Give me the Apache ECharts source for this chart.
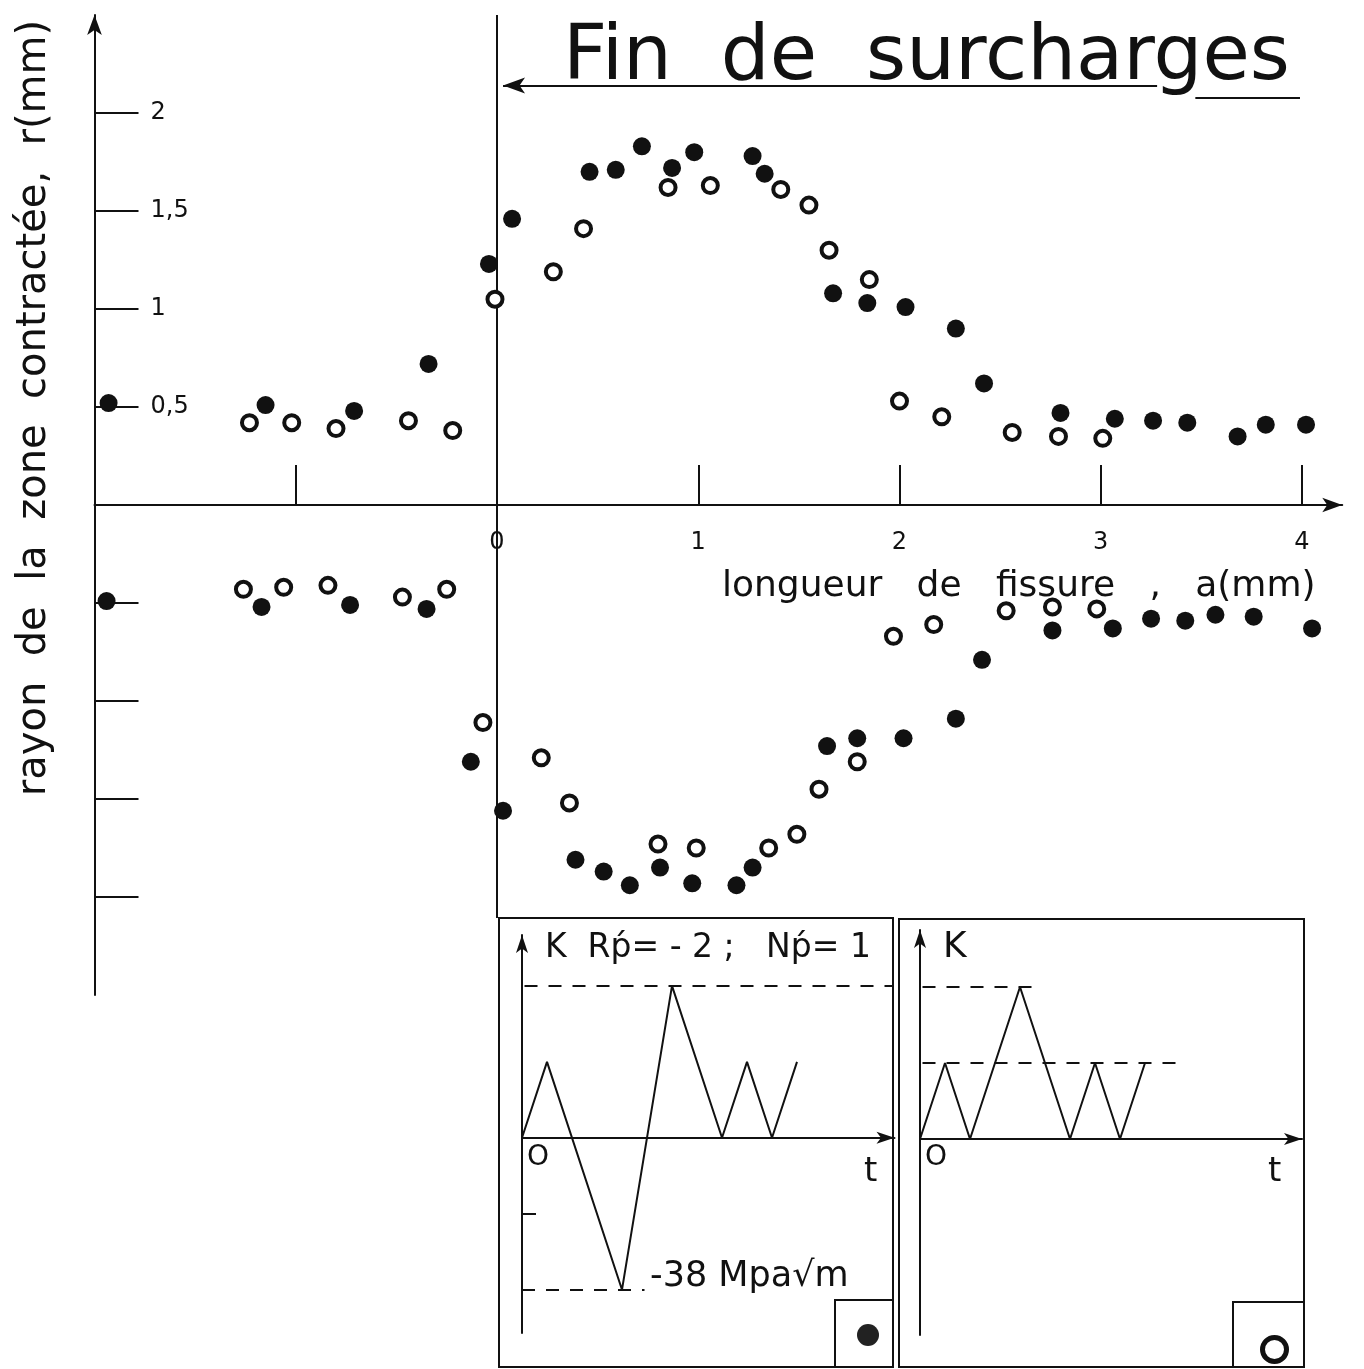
<!DOCTYPE html>
<html>
<head>
<meta charset="utf-8">
<script src="https://cdn.jsdelivr.net/npm/echarts@6/dist/echarts.min.js"></script>
<style>
html,body{margin:0;padding:0;background:#fff;}
#c{width:1364px;height:1369px;}
</style>
</head>
<body>
<div id="c"></div>
<script>
// ---- Data: crack length a (mm), radius of contracted zone r (mm) ----
// Filled symbols: overload followed by underload (R'p = -2, N'p = 1)
const filledUpper = [
  [-1.93,0.52],[-1.15,0.51],[-0.71,0.48],[-0.34,0.72],[-0.04,1.23],[0.075,1.46],
  [0.46,1.70],[0.59,1.71],[0.72,1.83],[0.87,1.72],[0.98,1.80],[1.27,1.78],[1.33,1.69],
  [1.67,1.08],[1.84,1.03],[2.03,1.01],[2.28,0.90],[2.42,0.62],[2.80,0.47],[3.07,0.44],
  [3.26,0.43],[3.43,0.42],[3.68,0.35],[3.82,0.41],[4.02,0.41]
];
const filledLower = [
  [-1.94,-0.49],[-1.17,-0.52],[-0.73,-0.51],[-0.35,-0.53],[-0.13,-1.31],[0.03,-1.56],
  [0.39,-1.81],[0.53,-1.87],[0.66,-1.94],[0.81,-1.85],[0.97,-1.93],[1.19,-1.94],[1.27,-1.85],
  [1.64,-1.23],[1.79,-1.19],[2.02,-1.19],[2.28,-1.09],[2.41,-0.79],[2.76,-0.64],[3.06,-0.63],
  [3.25,-0.58],[3.42,-0.59],[3.57,-0.56],[3.76,-0.57],[4.05,-0.63]
];
// Open symbols: overload only
const openUpper = [
  [-1.23,0.42],[-1.02,0.42],[-0.80,0.39],[-0.44,0.43],[-0.22,0.38],[-0.01,1.05],
  [0.28,1.19],[0.43,1.41],[0.85,1.62],[1.06,1.63],[1.41,1.61],[1.55,1.53],[1.65,1.30],
  [1.85,1.15],[2.00,0.53],[2.21,0.45],[2.56,0.37],[2.79,0.35],[3.01,0.34]
];
const openLower = [
  [-1.26,-0.43],[-1.06,-0.42],[-0.84,-0.41],[-0.47,-0.47],[-0.25,-0.43],[-0.07,-1.11],
  [0.22,-1.29],[0.36,-1.52],[0.80,-1.73],[0.99,-1.75],[1.35,-1.75],[1.49,-1.68],[1.60,-1.45],
  [1.79,-1.31],[1.97,-0.67],[2.17,-0.61],[2.53,-0.54],[2.76,-0.52],[2.98,-0.53]
];
// Axis ticks / labels
const xTickValues = [-1,1,2,3,4];
const xLabelValues = [0,1,2,3,4];
const yTickValues = [-2,-1.5,-1,-0.5,0.5,1,1.5,2];
const yLabelValues = [0.5,1,1.5,2];
// End of overloads marker (a = 0)
const overloadEndA = 0;
// ---- Inset load sequences K(t) (normalised: nominal Kmax = 1) ----
const tUnderload = [0,1,4,6,8,9,10,11];
const kUnderload = [0,1,-2,2,0,1,0,1];
const tOverload = [0,1,2,4,6,7,8,9];
const kOverload = [0,1,0,2,0,1,0,1];
const kNominal = 1, kPeak = 2, kMin = -2;

const INK = '#111';
const FONT = 'DejaVu Sans';
const pairs = (xs, ys) => xs.map((x, i) => [x, ys[i]]);

const chart = echarts.init(document.getElementById('c'), null, {renderer: 'canvas'});

const dashStyle = {color: INK, width: 2, type: [13, 11], opacity: 1};
const hiddenAxisBits = {axisLabel: {show: false}, splitLine: {show: false}};

const option = {
  backgroundColor: '#fff',
  animation: false,
  grid: [
    {left: 94.5, top: 15, width: 1247.75, height: 980},
    {left: 522, top: 935, width: 372.5, height: 398},
    {left: 920, top: 930, width: 382, height: 405}
  ],
  legend: [
    {data: ["R'p = -2 ; N'p = 1"], left: 857, top: 1324, padding: 0, itemWidth: 22, itemHeight: 22,
     formatter: () => '', selectedMode: false, icon: 'circle',
     itemStyle: {color: '#222', borderWidth: 0, opacity: 1}},
    {data: ["surcharge seule"], left: 1260, top: 1335, padding: 0, itemWidth: 24, itemHeight: 24,
     formatter: () => '', selectedMode: false, icon: 'circle',
     itemStyle: {color: '#fff', borderColor: INK, borderWidth: 5, opacity: 1}}
  ],
  xAxis: [
    {gridIndex: 0, type: 'value', min: -2, max: 4.2, interval: 1, position: 'bottom', offset: -490,
     axisLine: {onZero: false, lineStyle: {color: INK, width: 2}, symbol: ['none', 'arrow'], symbolSize: [11, 20]},
     axisTick: {show: true, inside: true, length: 40, lineStyle: {color: INK, width: 2}, customValues: xTickValues},
     axisLabel: {customValues: xLabelValues, margin: 26, fontSize: 24, color: INK, fontFamily: FONT},
     splitLine: {show: false}},
    Object.assign({gridIndex: 1, type: 'value', min: 0, max: 14.9,
     axisLine: {onZero: true, lineStyle: {color: INK, width: 2}, symbol: ['none', 'arrow'], symbolSize: [9, 18]},
     axisTick: {show: false}}, hiddenAxisBits),
    Object.assign({gridIndex: 2, type: 'value', min: 0, max: 15.28,
     axisLine: {onZero: true, lineStyle: {color: INK, width: 2}, symbol: ['none', 'arrow'], symbolSize: [9, 18]},
     axisTick: {show: false}}, hiddenAxisBits)
  ],
  yAxis: [
    {gridIndex: 0, type: 'value', min: -2.5, max: 2.5, interval: 0.5,
     axisLine: {onZero: false, lineStyle: {color: INK, width: 2}, symbol: ['none', 'arrow'], symbolSize: [11, 20]},
     axisTick: {show: true, inside: true, length: 44, lineStyle: {color: INK, width: 2}, customValues: yTickValues},
     axisLabel: {inside: true, margin: 56, customValues: yLabelValues, fontSize: 24, color: INK, fontFamily: FONT,
                 formatter: v => String(v).replace('.', ',')},
     splitLine: {show: false}},
    Object.assign({gridIndex: 1, type: 'value', min: -2.57, max: 2.67,
     axisLine: {onZero: false, lineStyle: {color: INK, width: 2}, symbol: ['none', 'arrow'], symbolSize: [9, 18]},
     axisTick: {show: true, inside: true, length: 14, lineStyle: {color: INK, width: 2}, customValues: [-1]}}, hiddenAxisBits),
    Object.assign({gridIndex: 2, type: 'value', min: -2.58, max: 2.75,
     axisLine: {onZero: false, lineStyle: {color: INK, width: 2}, symbol: ['none', 'arrow'], symbolSize: [9, 18]},
     axisTick: {show: false}}, hiddenAxisBits)
  ],
  series: [
    {name: "R'p = -2 ; N'p = 1", type: 'scatter', xAxisIndex: 0, yAxisIndex: 0,
     data: filledUpper.concat(filledLower), symbol: 'circle', symbolSize: 18,
     itemStyle: {color: INK, opacity: 1}, z: 5},
    {name: 'surcharge seule', type: 'scatter', xAxisIndex: 0, yAxisIndex: 0,
     data: openUpper.concat(openLower), symbol: 'circle', symbolSize: 15,
     itemStyle: {color: '#fff', borderColor: INK, borderWidth: 4, opacity: 1}, z: 4},
    {name: 'fin de surcharges', type: 'line', xAxisIndex: 0, yAxisIndex: 0,
     data: [[overloadEndA, 2.5], [overloadEndA, -2.107]], showSymbol: false, symbol: 'none', clip: false,
     lineStyle: {color: INK, width: 2}, silent: true,
     markLine: {silent: true, animation: false, label: {show: false}, symbol: ['none', 'none'],
       lineStyle: {color: INK, width: 2, type: 'solid', opacity: 1},
       data: [
         [{coord: [3.28, 2.14], symbol: 'none'}, {coord: [overloadEndA + 0.03, 2.14], symbol: 'arrow', symbolSize: [12, 22]}],
         [{coord: [3.47, 2.08]}, {coord: [3.99, 2.08]}]
       ]}},
    {name: 'K(t) sous-charge', type: 'line', xAxisIndex: 1, yAxisIndex: 1,
     data: pairs(tUnderload, kUnderload), symbol: 'none', clip: false,
     lineStyle: {color: INK, width: 2}, silent: true,
     markLine: {silent: true, animation: false, label: {show: false}, symbol: ['none', 'none'],
       lineStyle: dashStyle,
       data: [
         [{coord: [0.1, kPeak]}, {coord: [14.8, kPeak]}],
         [{coord: [-0.8, kNominal]}, {coord: [14.1, kNominal]}],
         [{coord: [0, kMin]}, {coord: [4.9, kMin]}]
       ]}},
    {name: 'K(t) surcharge', type: 'line', xAxisIndex: 2, yAxisIndex: 2,
     data: pairs(tOverload, kOverload), symbol: 'none', clip: false,
     lineStyle: {color: INK, width: 2}, silent: true,
     markLine: {silent: true, animation: false, label: {show: false}, symbol: ['none', 'none'],
       lineStyle: dashStyle,
       data: [
         [{coord: [0.1, kPeak]}, {coord: [4.6, kPeak]}],
         [{coord: [0.1, kNominal]}, {coord: [10.4, kNominal]}]
       ]}}
  ],
  graphic: [
    {type: 'rect', shape: {x: 499, y: 918, width: 394, height: 449}, style: {fill: 'none', stroke: INK, lineWidth: 2}, silent: true},
    {type: 'rect', shape: {x: 899, y: 919, width: 405, height: 448}, style: {fill: 'none', stroke: INK, lineWidth: 2}, silent: true},
    {type: 'rect', shape: {x: 835, y: 1300, width: 58, height: 67}, style: {fill: 'none', stroke: INK, lineWidth: 2}, silent: true},
    {type: 'rect', shape: {x: 1233, y: 1302, width: 71, height: 65}, style: {fill: 'none', stroke: INK, lineWidth: 2}, silent: true},
    {type: 'text', x: 563, y: 20, silent: true,
     style: {text: 'Fin  de  surcharges', fontSize: 77, fontFamily: FONT, fill: INK, align: 'left', verticalAlign: 'top'}},
    {type: 'text', x: 722, y: 569, silent: true,
     style: {text: 'longueur   de   fissure   ,   a(mm)', fontSize: 36, fontFamily: FONT, fill: INK, align: 'left', verticalAlign: 'top'}},
    {type: 'text', x: 35, y: 408, rotation: Math.PI / 2, silent: true,
     style: {text: 'rayon  de  la  zone  contractée,  r(mm)', fontSize: 40, fontFamily: FONT, fill: INK, align: 'center', verticalAlign: 'middle'}},
    {type: 'text', x: 545, y: 932, silent: true,
     style: {text: 'K  Rṕ= - 2 ;   Nṕ= 1', fontSize: 33, fontFamily: FONT, fill: INK, align: 'left', verticalAlign: 'top'}},
    {type: 'text', x: 650, y: 1259, silent: true,
     style: {text: '-38 Mpa√m', fontSize: 35, fontFamily: FONT, fill: INK, align: 'left', verticalAlign: 'top'}},
    {type: 'text', x: 527, y: 1144, silent: true,
     style: {text: 'O', fontSize: 28, fontFamily: FONT, fill: INK, align: 'left', verticalAlign: 'top'}},
    {type: 'text', x: 864, y: 1155, silent: true,
     style: {text: 't', fontSize: 34, fontFamily: FONT, fill: INK, align: 'left', verticalAlign: 'top'}},
    {type: 'text', x: 943, y: 930, silent: true,
     style: {text: 'K', fontSize: 36, fontFamily: FONT, fill: INK, align: 'left', verticalAlign: 'top'}},
    {type: 'text', x: 925, y: 1144, silent: true,
     style: {text: 'O', fontSize: 28, fontFamily: FONT, fill: INK, align: 'left', verticalAlign: 'top'}},
    {type: 'text', x: 1268, y: 1155, silent: true,
     style: {text: 't', fontSize: 34, fontFamily: FONT, fill: INK, align: 'left', verticalAlign: 'top'}}
  ]
};
chart.setOption(option);
</script>
</body>
</html>
